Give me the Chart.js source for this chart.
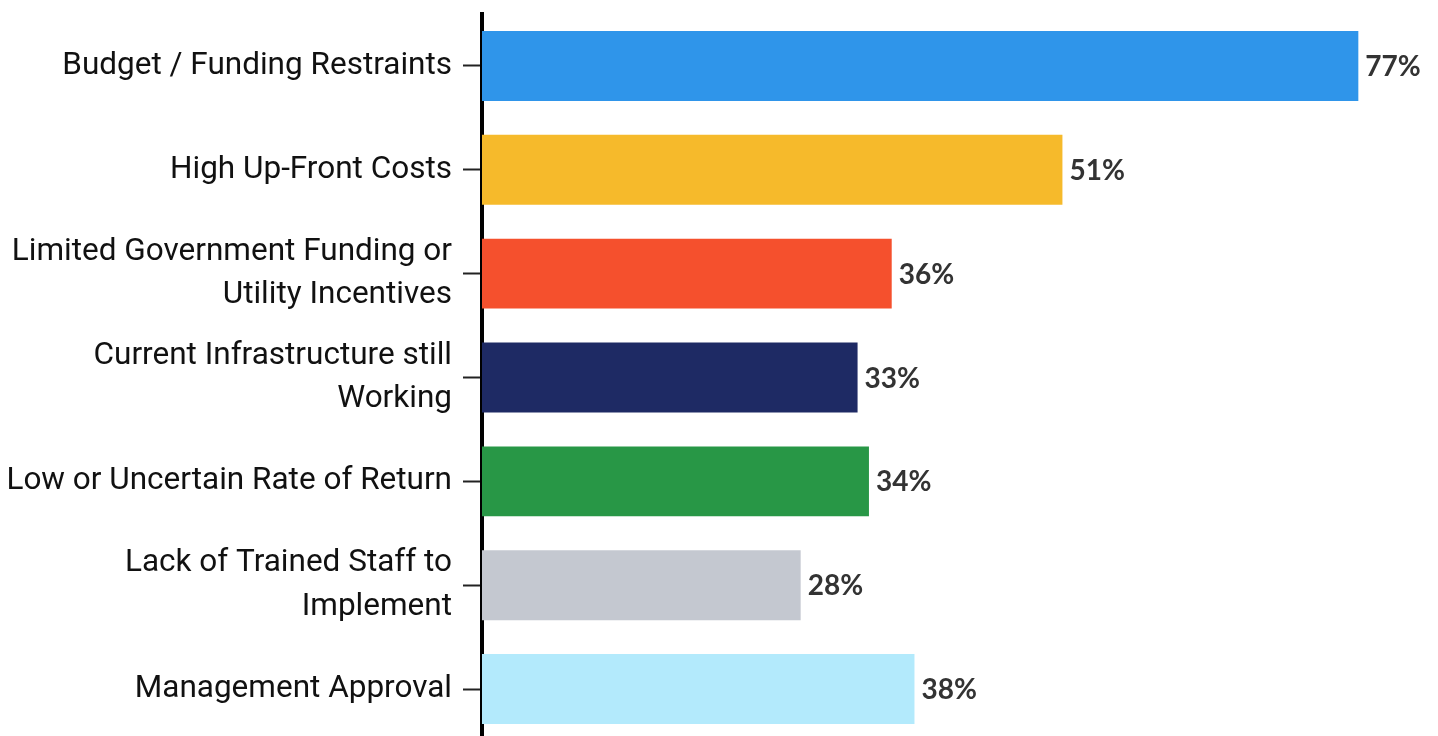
<!DOCTYPE html>
<html>
<head>
<meta charset="utf-8">
<script src="https://cdn.jsdelivr.net/npm/chart.js@4"></script>
<style>
  html, body { margin: 0; padding: 0; background: #ffffff; overflow: hidden; width: 1438px; height: 736px; }
  #wrap { width: 1438px; height: 742px; }
</style>
</head>
<body>
<div id="wrap"><canvas id="c" width="1438" height="742"></canvas></div>
<script>
const categories = [
  ["Budget / Funding Restraints"],
  ["High Up-Front Costs"],
  ["Limited Government Funding or", "Utility Incentives"],
  ["Current Infrastructure still", "Working"],
  ["Low or Uncertain Rate of Return"],
  ["Lack of Trained Staff to", "Implement"],
  ["Management Approval"]
];
const values = [77, 51, 36, 33, 34, 28, 38];
const barColors = ["#2F95EA", "#F6BA2B", "#F5502D", "#1E2A64", "#289746", "#C4C8D0", "#B3EAFC"];

const valueLabels = {
  id: 'valueLabels',
  afterDatasetsDraw(chart) {
    const ctx = chart.ctx;
    const meta = chart.getDatasetMeta(0);
    ctx.save();
    ctx.font = 'bold 28px Lato, "Open Sans", sans-serif';
    ctx.fillStyle = '#333333';
    ctx.textAlign = 'left';
    ctx.textBaseline = 'middle';
    meta.data.forEach((bar, i) => {
      ctx.fillText(values[i] + '%', bar.x + 7, bar.y + 1);
    });
    ctx.restore();
  }
};

new Chart(document.getElementById('c'), {
  type: 'bar',
  data: {
    labels: categories,
    datasets: [{
      data: values,
      backgroundColor: barColors,
      borderWidth: 0,
      barPercentage: 0.673,
      categoryPercentage: 1.0
    }]
  },
  options: {
    indexAxis: 'y',
    responsive: false,
    animation: false,
    layout: { padding: { top: 14, right: 0, bottom: 1, left: 0 } },
    plugins: { legend: { display: false }, tooltip: { enabled: false } },
    scales: {
      x: { display: false, min: 0, max: 84 },
      y: {
        afterFit(scale) { scale.width = 482; scale.paddingTop = 0; scale.paddingBottom = 0; },
        grid: {
          offset: false,
          drawOnChartArea: false,
          drawTicks: true,
          tickLength: 19,
          tickColor: '#222222',
          tickWidth: 2
        },
        border: { display: true, color: '#000000', width: 4 },
        ticks: {
          color: '#111111',
          padding: 11,
          font: { family: 'Roboto, "DejaVu Sans Condensed", sans-serif', size: 31.5, lineHeight: 1.38 }
        }
      }
    }
  },
  plugins: [valueLabels]
});
</script>
</body>
</html>
